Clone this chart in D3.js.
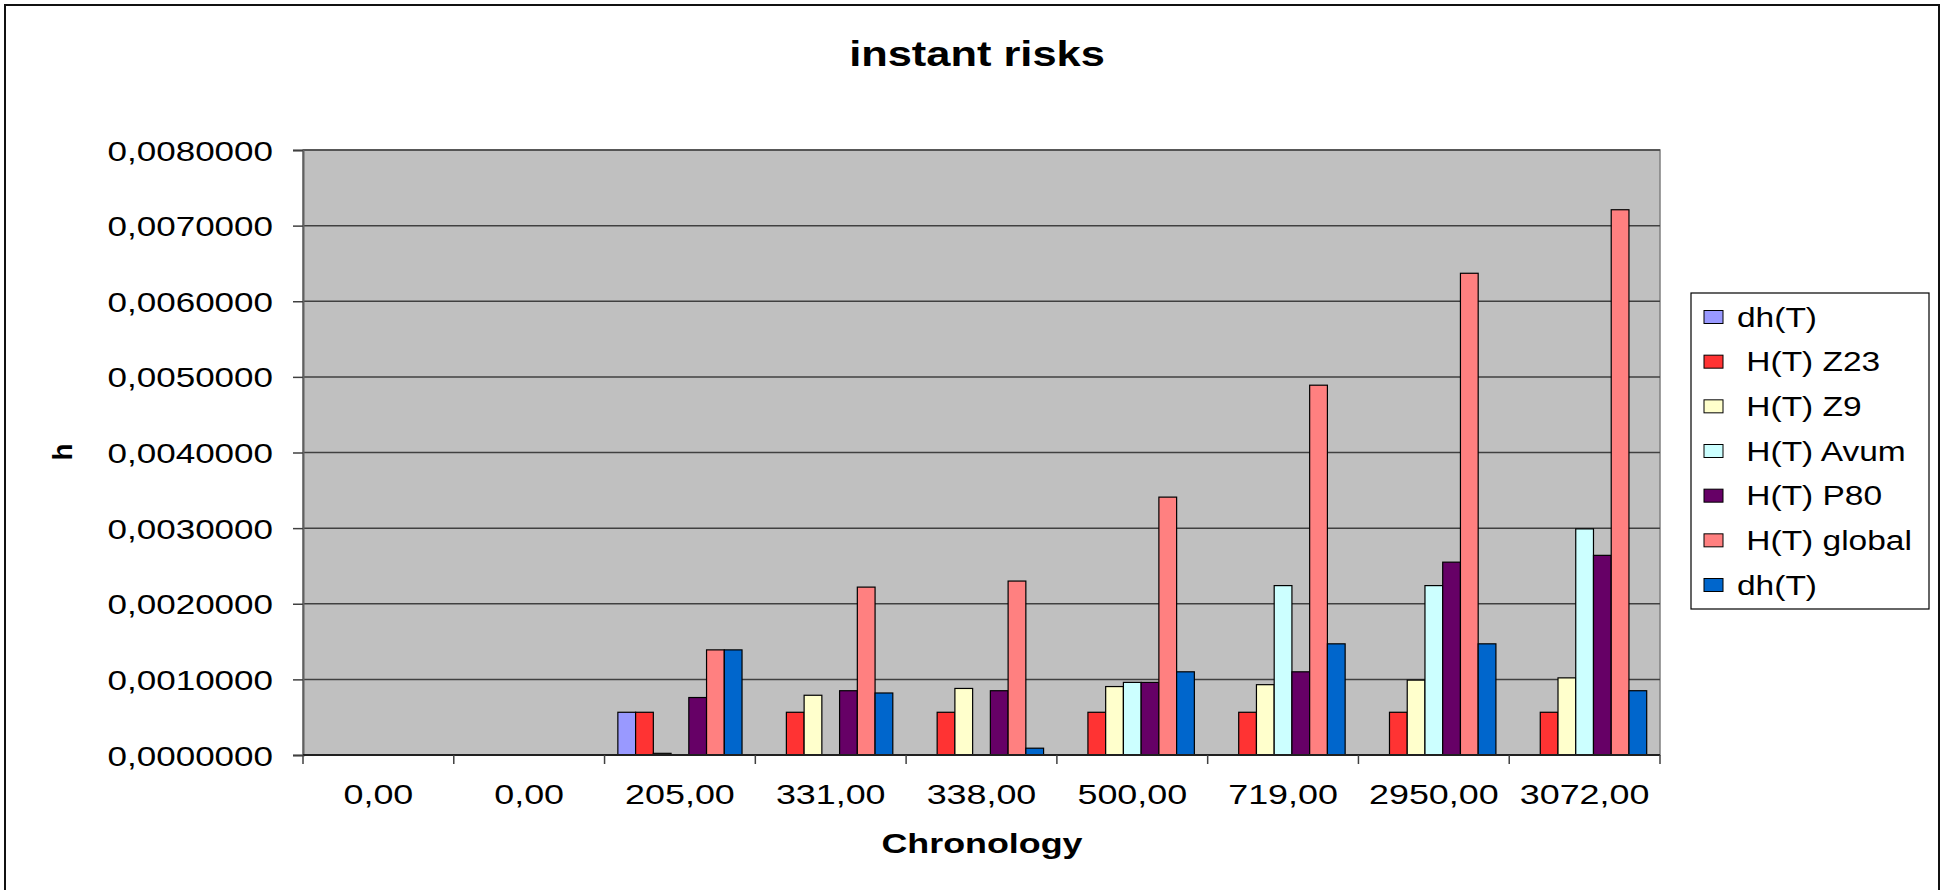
<!DOCTYPE html>
<html>
<head>
<meta charset="utf-8">
<title>instant risks</title>
<script src="https://cdn.jsdelivr.net/npm/d3@7"></script>
<style>
  body { margin: 0; background: #fff; }
  svg text { font-family: Arial, "Liberation Sans", sans-serif; fill: #000; }
</style>
</head>
<body>
<div id="grafico"></div>
<script>
// datos
const categorias = ["0,00", "0,00", "205,00", "331,00", "338,00", "500,00", "719,00", "2950,00", "3072,00"];
const series = ["dh(T)", " H(T) Z23", " H(T) Z9", " H(T) Avum", " H(T) P80", " H(T) global", "dh(T)"];
const colores = ["#9999FF", "#FF3333", "#FFFFCC", "#CCFFFF", "#660066", "#FF8080", "#0066CC"];

const dhT1    = [0, 0, 0.000565, 0, 0, 0, 0, 0, 0];
const hZ23    = [0, 0, 0.000565, 0.000565, 0.000565, 0.000565, 0.000565, 0.000565, 0.000565];
const hZ9     = [0, 0, 0.000022, 0.00079, 0.00088, 0.000905, 0.00093, 0.00099, 0.00102];
const hAvum   = [0, 0, 0, 0, 0, 0.00096, 0.00224, 0.00224, 0.00299];
const hP80    = [0, 0, 0.00076, 0.00085, 0.00085, 0.00096, 0.0011, 0.00255, 0.00264];
const hGlobal = [0, 0, 0.00139, 0.00222, 0.0023, 0.00341, 0.00489, 0.00637, 0.00721];
const dhT2    = [0, 0, 0.00139, 0.00082, 0.00009, 0.0011, 0.00147, 0.00147, 0.00085];
const valores = [dhT1, hZ23, hZ9, hAvum, hP80, hGlobal, dhT2];

const ticksY = [0, 0.001, 0.002, 0.003, 0.004, 0.005, 0.006, 0.007, 0.008];

document.addEventListener("DOMContentLoaded", () => {
  const W = 1944, H = 890;
  const plot = { left: 303, right: 1660, top: 150, bottom: 755 };

  const svg = d3.select("#grafico")
    .append("svg")
    .attr("width", W)
    .attr("height", H);

  // ensanchar texto (el original esta estirado horizontalmente)
  function estirar(sel, k) {
    sel.each(function () {
      const w = this.getComputedTextLength();
      d3.select(this).attr("textLength", w * k).attr("lengthAdjust", "spacingAndGlyphs");
    });
  }

  // marco exterior
  svg.append("rect")
    .attr("x", 5).attr("y", 5)
    .attr("width", 1934).attr("height", 900)
    .attr("fill", "none")
    .attr("stroke", "#111")
    .attr("stroke-width", 2);

  const idx = d3.range(categorias.length);
  const x0 = d3.scaleBand().domain(idx).range([plot.left, plot.right]).padding(0);
  const x1 = d3.scaleBand().domain(d3.range(series.length))
    .range([0, x0.bandwidth()]).paddingInner(0).paddingOuter(0.75);
  const y = d3.scaleLinear().domain([0, 0.008]).range([plot.bottom, plot.top]);

  // area del grafico
  svg.append("rect")
    .attr("x", plot.left).attr("y", plot.top)
    .attr("width", plot.right - plot.left).attr("height", plot.bottom - plot.top)
    .attr("fill", "#C0C0C0")
    .attr("stroke", "#808080")
    .attr("stroke-width", 1.5);

  // lineas de cuadricula
  svg.append("g")
    .selectAll("line")
    .data(ticksY.slice(1))
    .enter()
    .append("line")
    .attr("x1", plot.left).attr("x2", plot.right)
    .attr("y1", d => y(d)).attr("y2", d => y(d))
    .attr("stroke", "#404040")
    .attr("stroke-width", 1.5);

  // eje Y
  const ejeY = svg.append("g")
    .attr("transform", `translate(${plot.left},0)`)
    .call(d3.axisLeft(y).tickValues(ticksY).tickSize(10).tickPadding(20)
      .tickFormat(d => d3.format(".7f")(d).replace(".", ",")));
  ejeY.select(".domain").attr("stroke", "#606060").attr("stroke-width", 2);
  ejeY.selectAll(".tick line").attr("stroke", "#404040").attr("stroke-width", 1.5);
  ejeY.selectAll("text").style("font-size", "28px").attr("dy", "0.36em");
  estirar(ejeY.selectAll("text"), 1.25);

  // barras
  const grupos = svg.append("g")
    .selectAll("g")
    .data(idx)
    .enter()
    .append("g")
    .attr("transform", i => `translate(${x0(i)},0)`);

  grupos.selectAll("rect")
    .data(i => valores.map((serie, s) => ({ s, v: serie[i] })).filter(d => d.v > 0))
    .enter()
    .append("rect")
    .attr("x", d => x1(d.s))
    .attr("y", d => y(d.v))
    .attr("width", x1.bandwidth())
    .attr("height", d => y(0) - y(d.v))
    .attr("fill", d => colores[d.s])
    .attr("stroke", "#000")
    .attr("stroke-width", 1.2);

  // eje X
  const ejeX = svg.append("g")
    .attr("transform", `translate(0,${plot.bottom})`);
  ejeX.append("line")
    .attr("x1", plot.left).attr("x2", plot.right)
    .attr("stroke", "#202020").attr("stroke-width", 2);
  ejeX.selectAll(".marca")
    .data(idx.concat([categorias.length]))
    .enter()
    .append("line")
    .attr("class", "marca")
    .attr("x1", i => i < categorias.length ? x0(i) : plot.right)
    .attr("x2", i => i < categorias.length ? x0(i) : plot.right)
    .attr("y1", 0).attr("y2", 9)
    .attr("stroke", "#404040").attr("stroke-width", 1.5);
  const etiquetasX = ejeX.selectAll(".etq")
    .data(idx)
    .enter()
    .append("text")
    .attr("class", "etq")
    .attr("x", i => x0(i) + x0.bandwidth() / 2)
    .attr("y", 49)
    .attr("text-anchor", "middle")
    .style("font-size", "28px")
    .text(i => categorias[i]);
  estirar(etiquetasX, 1.28);

  // titulos
  const titulo = svg.append("text")
    .attr("x", 977).attr("y", 66)
    .attr("text-anchor", "middle")
    .style("font-size", "35px").style("font-weight", "bold")
    .text("instant risks");
  estirar(titulo, 1.24);

  const tituloX = svg.append("text")
    .attr("x", 982).attr("y", 853)
    .attr("text-anchor", "middle")
    .style("font-size", "28px").style("font-weight", "bold")
    .text("Chronology");
  estirar(tituloX, 1.28);

  svg.append("text")
    .attr("transform", "translate(72,452) rotate(-90)")
    .attr("text-anchor", "middle")
    .style("font-size", "28px").style("font-weight", "bold")
    .text("h");

  // leyenda
  const leyenda = svg.append("g");
  leyenda.append("rect")
    .attr("x", 1691).attr("y", 293)
    .attr("width", 238).attr("height", 316)
    .attr("fill", "#fff")
    .attr("stroke", "#000")
    .attr("stroke-width", 1.2);

  const itemY = d3.scalePoint().domain(d3.range(series.length)).range([317, 585]);
  const items = leyenda.selectAll(".item")
    .data(series)
    .enter()
    .append("g")
    .attr("class", "item")
    .attr("transform", (d, i) => `translate(1704,${itemY(i)})`);
  items.append("rect")
    .attr("x", 0).attr("y", -6.5)
    .attr("width", 19).attr("height", 13)
    .attr("fill", (d, i) => colores[i])
    .attr("stroke", "#000")
    .attr("stroke-width", 1);
  const textosLeyenda = items.append("text")
    .attr("x", 33).attr("y", 0).attr("dy", "0.36em")
    .style("font-size", "27px")
    .style("white-space", "pre")
    .text(d => d);
  estirar(textosLeyenda, 1.24);
});
</script>
</body>
</html>
